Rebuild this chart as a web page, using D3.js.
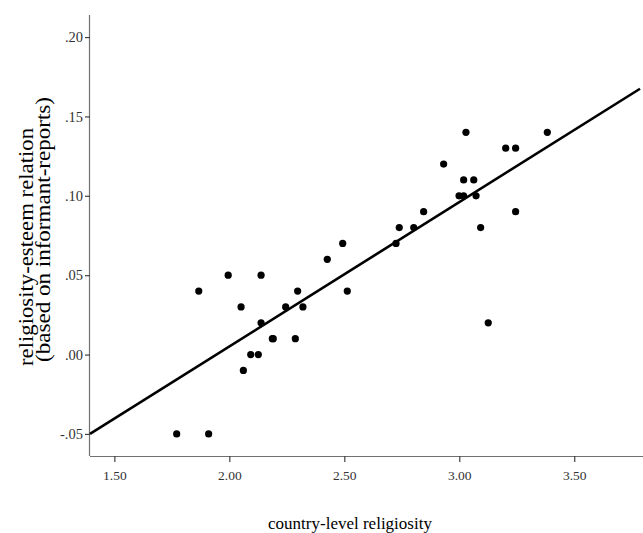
<!DOCTYPE html>
<html>
<head>
<meta charset="utf-8">
<script src="https://cdn.jsdelivr.net/npm/d3@7"></script>
<style>
html,body{margin:0;padding:0;background:#fff;}
svg{display:block;}
</style>
</head>
<body>
<svg id="chart" width="643" height="533"></svg>
<script>
// Data
const religiosity = [1.771,1.910,1.867,1.995,2.138,2.051,2.138,2.187,2.093,2.126,2.061,
  2.493,2.426,2.297,2.513,2.245,2.320,2.191,2.287,2.725,2.739,2.802,2.845,2.932,
  3.019,3.063,2.999,3.019,3.073,3.093,3.126,3.029,3.383,3.202,3.245,3.245];
const esteemRelation = [-0.05,-0.05,0.04,0.05,0.05,0.03,0.02,0.01,0.00,0.00,-0.01,
  0.07,0.06,0.04,0.04,0.03,0.03,0.01,0.01,0.07,0.08,0.08,0.09,0.12,
  0.11,0.11,0.10,0.10,0.10,0.08,0.02,0.14,0.14,0.13,0.13,0.09];
const fitIntercept = -0.1767;
const fitSlope = 0.0909;
const xTicks = [1.5, 2.0, 2.5, 3.0, 3.5];
const xTickLabels = ["1.50", "2.00", "2.50", "3.00", "3.50"];
const yTicks = [-0.05, 0.00, 0.05, 0.10, 0.15, 0.20];
const yTickLabels = ["-.05", ".00", ".05", ".10", ".15", ".20"];
const xTitle = "country-level religiosity";
const yTitleLines = ["religiosity-esteem relation", "(based on informant-reports)"];

(function () {
const svg = d3.select("#chart");
const pLeft = 90, pRight = 640, pTop = 15, pBottom = 456;
const x = d3.scaleLinear().domain([1.394, 3.786]).range([pLeft, pRight]);
const y = d3.scaleLinear().domain([-0.0639, 0.2139]).range([pBottom, pTop]);

const serif = "'Liberation Serif','Times New Roman',serif";

// x axis
const xAxis = d3.axisBottom(x).tickValues(xTicks)
  .tickFormat((d, i) => xTickLabels[i]).tickSizeInner(6).tickSizeOuter(0).tickPadding(8);
const gx = svg.append("g").attr("transform", `translate(0,${pBottom})`).call(xAxis);
gx.select(".domain").attr("stroke", "#707070").attr("stroke-width", 1.2)
  .attr("d", `M${pLeft},0.5H${pRight + 10}`);
gx.selectAll(".tick line").attr("stroke", "#404040").attr("stroke-width", 1.2);
gx.selectAll(".tick text").attr("font-family", serif).attr("font-size", 13.5).attr("fill", "#333");

// y axis
const yAxis = d3.axisLeft(y).tickValues(yTicks)
  .tickFormat((d, i) => yTickLabels[i]).tickSizeInner(5).tickSizeOuter(0).tickPadding(2);
const gy = svg.append("g").attr("transform", `translate(${pLeft},0)`).call(yAxis);
gy.select(".domain").attr("stroke", "#707070").attr("stroke-width", 1.2)
  .attr("d", `M-0.5,${pTop}V${pBottom}`);
gy.selectAll(".tick line").attr("stroke", "#404040").attr("stroke-width", 1.2);
gy.selectAll(".tick text").attr("font-family", serif).attr("font-size", 14.5).attr("fill", "#333");

// fit line
const [x0, x1] = x.domain();
svg.append("line")
  .attr("x1", x(x0)).attr("y1", y(fitIntercept + fitSlope * x0))
  .attr("x2", x(x1)).attr("y2", y(fitIntercept + fitSlope * x1))
  .attr("stroke", "#000").attr("stroke-width", 2.6);

// points
svg.append("g").selectAll("circle")
  .data(religiosity.map((v, i) => [v, esteemRelation[i]]))
  .join("circle")
  .attr("cx", d => x(d[0])).attr("cy", d => y(d[1]))
  .attr("r", 3.6).attr("fill", "#000");

// titles
svg.append("text").attr("x", 350).attr("y", 529)
  .attr("text-anchor", "middle").attr("font-family", serif).attr("font-size", 17)
  .attr("fill", "#000").text(xTitle);

const yLens = [238, 265];
const yStarts = [366, 362];
yTitleLines.forEach((t, i) => {
  svg.append("text")
    .attr("transform", `translate(${33 + i * 16.5},${yStarts[i]}) rotate(-90)`)
    .attr("text-anchor", "start").attr("font-family", serif).attr("font-size", 20)
    .attr("textLength", yLens[i]).attr("lengthAdjust", "spacingAndGlyphs")
    .attr("fill", "#000").text(t);
});
})();
</script>
</body>
</html>
